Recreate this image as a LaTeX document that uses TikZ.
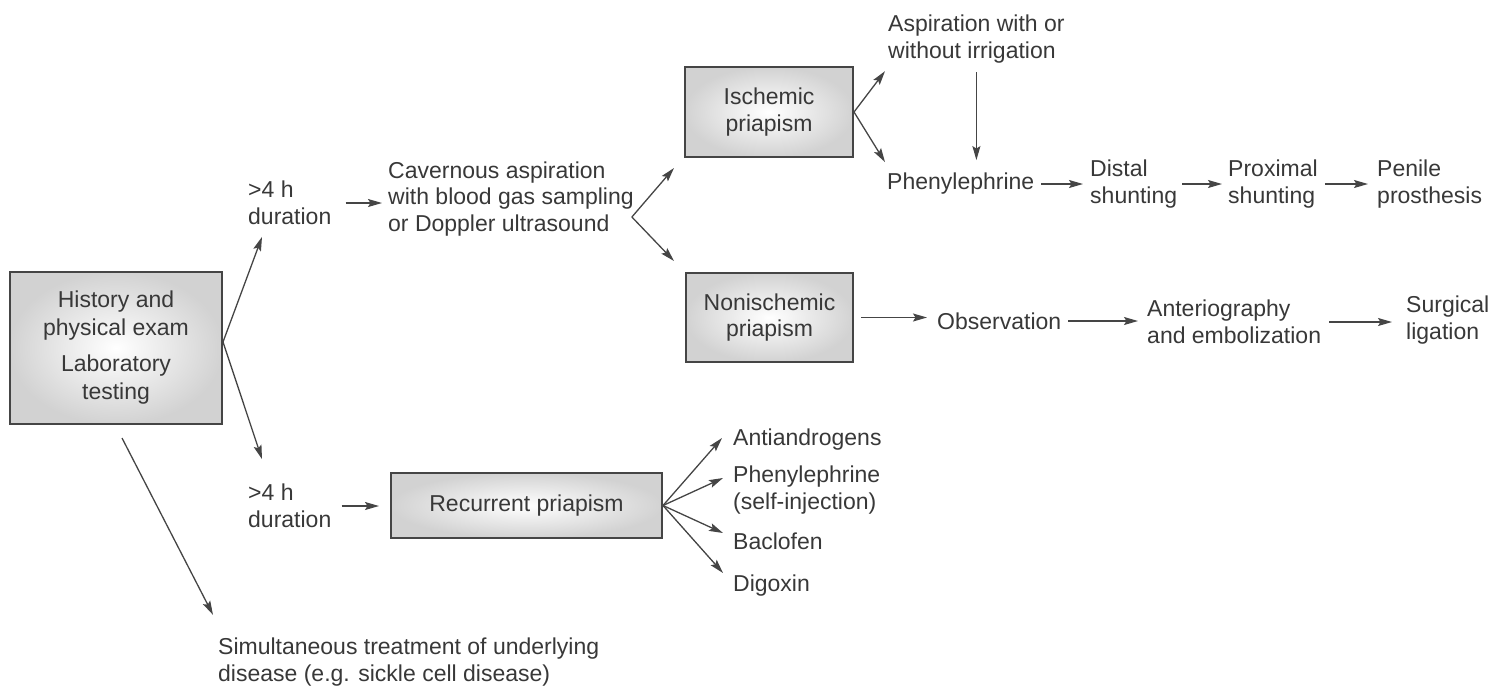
\documentclass[tikz,border=0pt]{standalone}
\usepackage{fontspec}
\setmainfont{Liberation Sans}
\usetikzlibrary{arrows.meta,shadings}
\definecolor{ink}{HTML}{383838}
\definecolor{linec}{HTML}{454545}
\begin{document}
\begin{tikzpicture}[x=1pt,y=-1pt,
  every node/.style={font=\fontsize{23}{26.5}\selectfont, text=ink},
  txt/.style={anchor=west, align=left, inner sep=0pt},
  box/.style={draw=linec, line width=2pt, inner color=white, outer color=gray!35, align=center, inner sep=2pt},
  arr/.style={-{Stealth[length=14pt,width=8pt,inset=2.5pt]}, draw=linec, line width=1.3pt}
]
\useasboundingbox (0,0) rectangle (1507,689);
% nodes
\node[box, minimum width=212pt, minimum height=152pt, font=\fontsize{23}{28}\selectfont] (his) at (116,348) {History and\\physical exam\\[8pt]Laboratory\\testing};
\node[txt] (d1) at (248,203) {>4 h\\duration};
\node[txt] (cav) at (388,199) {Cavernous aspiration\\with blood gas sampling\\or Doppler ultrasound};
\node[box, minimum width=168pt, minimum height=90pt] (isc) at (769,112) {Ischemic\\priapism};
\node[box, minimum width=167pt, minimum height=89pt] (non) at (769.5,317.5) {Nonischemic\\priapism};
\node[txt] (asp) at (888,39) {Aspiration with or\\without irrigation};
\node[txt] (phe) at (887,184) {Phenylephrine};
\node[txt] (dis) at (1090,184) {Distal\\shunting};
\node[txt] (pro) at (1228,184) {Proximal\\shunting};
\node[txt] (pen) at (1377,184) {Penile\\prosthesis};
\node[txt] (obs) at (937,321) {Observation};
\node[txt] (ant) at (1147,322) {Anteriography\\and embolization};
\node[txt] (sur) at (1406,320) {Surgical\\ligation};
\node[box, minimum width=271pt, minimum height=65pt] (rec) at (526.5,505.5) {Recurrent priapism};
\node[txt] (d2) at (248,506) {>4 h\\duration};
\node[txt] (aa) at (733,440) {Antiandrogens};
\node[txt] (pe2) at (733,490) {Phenylephrine\\(self-injection)};
\node[txt] (bac) at (733,541) {Baclofen};
\node[txt] (dig) at (733,586) {Digoxin};
\node[txt] (sim) at (218,662) {Simultaneous treatment of underlying\\disease (e.g. sickle cell disease)};
\coordinate (fork) at ([xshift=-2pt,yshift=-18pt]cav.east);
% connectors
\draw[arr] ([yshift=6pt]his.east) -- ([xshift=14pt,yshift=-12pt]d1.south west);
\draw[arr] ([yshift=6pt]his.east) -- ([xshift=14pt,yshift=25pt]d2.north west);
\draw[arr] ([xshift=6pt,yshift=-13pt]his.south) -- ([xshift=-5pt,yshift=23pt]sim.north west);
\draw[arr, shorten <=14pt, shorten >=6pt] (d1.east) -- (d1.east -| cav.west);
\draw[arr] (fork) -- ([xshift=-10pt,yshift=-10pt]isc.south west);
\draw[arr] (fork) -- ([xshift=-11pt,yshift=11pt]non.north west);
\draw[arr] (isc.east) -- ([xshift=-3pt,yshift=-8pt]asp.south west);
\draw[arr] (isc.east) -- ([xshift=-2pt,yshift=11pt]phe.north west);
\draw[arr, shorten <=9pt, shorten >=13pt] (asp.south) -- (asp.south |- phe.north);
\draw[arr, shorten <=7pt, shorten >=7pt] (phe.east) -- (phe.east -| dis.west);
\draw[arr, shorten <=5pt, shorten >=6pt] (dis.east) -- (dis.east -| pro.west);
\draw[arr, shorten <=7pt, shorten >=9pt] (pro.east) -- (pro.east -| pen.west);
\draw[arr, shorten <=7pt, shorten >=10pt] (non.east) -- (non.east -| obs.west);
\draw[arr, shorten <=7pt, shorten >=9pt] (obs.east) -- (obs.east -| ant.west);
\draw[arr, shorten <=8pt, shorten >=14pt] (ant.east) -- (ant.east -| sur.west);
\draw[arr, shorten <=10pt, shorten >=11pt] (d2.east) -- (d2.east -| rec.west);
\draw[arr] (rec.east) -- ([xshift=-11pt,yshift=2pt]aa.west);
\draw[arr] (rec.east) -- ([xshift=-10pt,yshift=12pt]pe2.west);
\draw[arr] (rec.east) -- ([xshift=-10pt,yshift=8pt]bac.west);
\draw[arr] (rec.east) -- ([xshift=-10pt,yshift=13pt]dig.west);
\end{tikzpicture}
\end{document}
